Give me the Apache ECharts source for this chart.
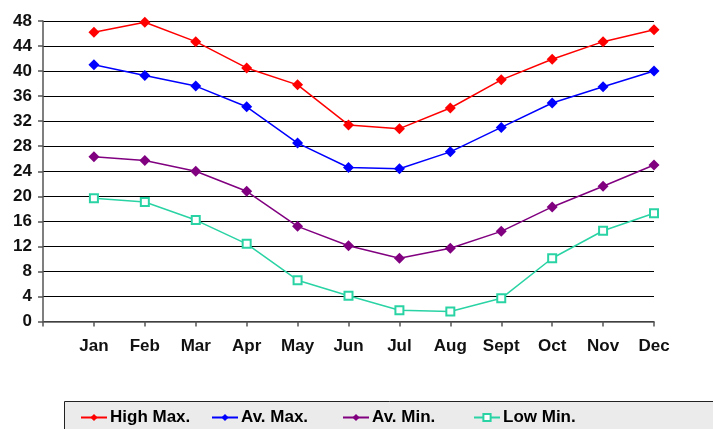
<!DOCTYPE html>
<html><head><meta charset="utf-8">
<script src="https://cdn.jsdelivr.net/npm/echarts@6/dist/echarts.min.js"></script>
<style>html,body{margin:0;padding:0;background:#fff}#c{width:713px;height:429px}</style>
</head><body><div id="c"></div>
<script>
const months = ['Jan','Feb','Mar','Apr','May','Jun','Jul','Aug','Sept','Oct','Nov','Dec'];
const yTicks = [0,4,8,12,16,20,24,28,32,36,40,44,48];
const highMax = [46.2,47.8,44.7,40.5,37.8,31.4,30.8,34.1,38.6,41.9,44.7,46.6];
const avMax   = [41.0,39.3,37.6,34.3,28.5,24.6,24.4,27.1,31.0,34.9,37.5,40.0];
const avMin   = [26.3,25.7,24.0,20.8,15.2,12.1,10.1,11.7,14.4,18.3,21.6,25.0];
const lowMin  = [19.7,19.1,16.2,12.4,6.6,4.1,1.8,1.6,3.7,10.1,14.5,17.3];
const seriesNames = ['High Max.','Av. Max.','Av. Min.','Low Min.'];
const seriesData = [highMax, avMax, avMin, lowMin];
const colors = ['#ff0000','#0000ff','#800080','#2ad3a4'];
const symbols = ['diamond','diamond','diamond','emptyRect'];
const symbolSizes = [11,11,11,8];

const chart = echarts.init(document.getElementById('c'));
const font = 'Liberation Sans, Arial, sans-serif';
chart.setOption({
  animation:false,
  grid:{left:43,right:59,top:21,bottom:107.5},
  xAxis:{type:'value',min:0,max:12,interval:1,
    axisLine:{show:true,onZero:false,lineStyle:{color:'#555',width:1.5}},
    axisTick:{show:true,length:5,lineStyle:{color:'#555',width:1.5}},
    splitLine:{show:false},
    axisLabel:{margin:16,color:'#111',fontWeight:'bold',fontSize:17,fontFamily:font,
      formatter:v=> (v>=1 && v<=12) ? months[v-1] : ''}},
  yAxis:{type:'value',min:yTicks[0],max:yTicks[yTicks.length-1],interval:4,
    axisLine:{show:true,lineStyle:{color:'#555',width:1.5}},
    axisTick:{show:true,length:5,lineStyle:{color:'#555',width:1.5}},
    splitLine:{show:true,lineStyle:{color:'#000',width:1.2}},
    axisLabel:{margin:11,color:'#111',fontWeight:'bold',fontSize:17,fontFamily:font}},
  graphic:[{type:'rect',left:64,top:401,shape:{width:660,height:30},
    style:{fill:'#ebebeb',stroke:'#222',lineWidth:1},z:-1}],
  legend: seriesNames.map((n,i)=>({data:[n],left:75+i*131,top:404,itemWidth:26,itemHeight:9,itemGap:2,
    textStyle:{fontWeight:'bold',fontSize:17,color:'#000',fontFamily:font,padding:[0,0,0,-2]}})),
  series: seriesNames.map((n,i)=>({name:n,type:'line',
    data: seriesData[i].map((v,j)=>[j+1,v]),
    symbol:symbols[i],symbolSize:symbolSizes[i],
    lineStyle:{color:colors[i],width:1.5},
    itemStyle:{color:colors[i],borderColor:colors[i],borderWidth: symbols[i]==='emptyRect'?1.5:0}}))
});
</script></body></html>
